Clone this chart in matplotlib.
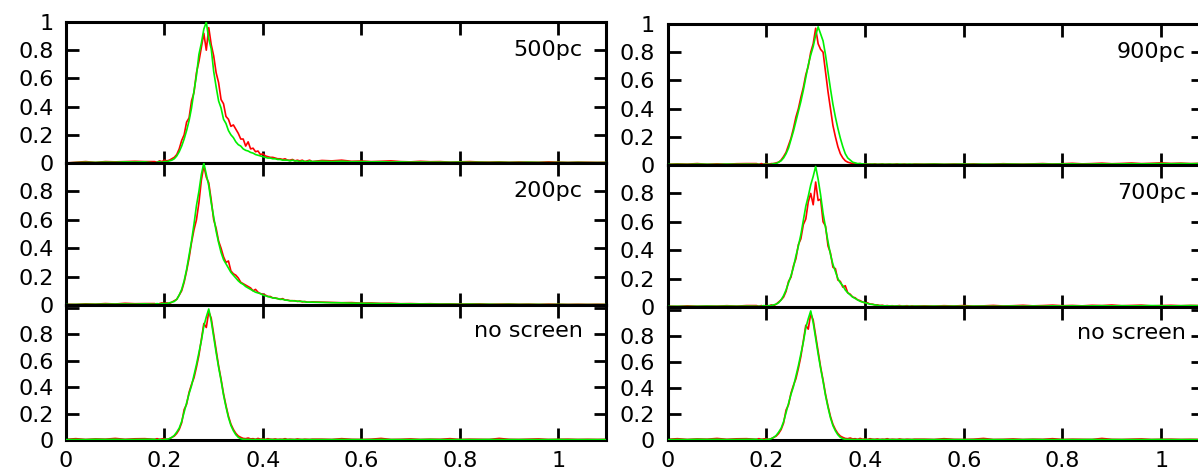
import numpy as np
import matplotlib
matplotlib.use("Agg")
import matplotlib.pyplot as plt
from matplotlib.ticker import FuncFormatter

plt.rcParams['font.family'] = ['DejaVu Sans']

# ---------------- data (normalised histograms) ----------------
# bin centres: a coarse low tail, a fine core around the peak, a coarse high tail
x_lo = [0.00, 0.02, 0.04, 0.06, 0.08, 0.10, 0.12, 0.14, 0.16]
x_core = np.round(np.arange(0.18, 0.5001, 0.005), 3)   # 0.180 ... 0.500
x_hi = np.round(np.arange(0.52, 1.1001, 0.02), 2)      # 0.52 ... 1.10

# ---- 500pc ----
r500_lo = [0.000, 0.005, 0.010, 0.004, 0.010, 0.008, 0.010, 0.012, 0.010]
r500_core = [0.010, 0.005, 0.015, 0.010, 0.020,
             0.015, 0.020, 0.030, 0.040, 0.060,
             0.100, 0.160, 0.200, 0.290, 0.320,
             0.440, 0.500, 0.640, 0.720, 0.820,
             0.920, 0.800, 0.960, 0.840, 0.760,
             0.640, 0.570, 0.450, 0.420, 0.330,
             0.310, 0.260, 0.270, 0.240, 0.210,
             0.170, 0.170, 0.120, 0.150, 0.100,
             0.105, 0.080, 0.085, 0.060, 0.065,
             0.050, 0.045, 0.040, 0.040, 0.035,
             0.030, 0.030, 0.025, 0.030, 0.020,
             0.020, 0.025, 0.015, 0.020, 0.015,
             0.020, 0.010, 0.015, 0.020, 0.010]
r500_hi = [0.018, 0.015, 0.020, 0.012, 0.014, 0.010, 0.012, 0.015, 0.010, 0.008,
           0.012, 0.009, 0.010, 0.006, 0.008, 0.010, 0.007, 0.006, 0.008, 0.005,
           0.007, 0.006, 0.005, 0.008, 0.006, 0.004, 0.006, 0.005, 0.004, 0.005]
g500_lo = [0.000, 0.003, 0.005, 0.004, 0.006, 0.005, 0.008, 0.007, 0.008]
g500_core = [0.000, 0.005, 0.010, 0.005, 0.010,
             0.010, 0.015, 0.020, 0.030, 0.050,
             0.080, 0.120, 0.170, 0.230, 0.300,
             0.390, 0.510, 0.620, 0.770, 0.850,
             0.950, 1.000, 0.880, 0.810, 0.650,
             0.540, 0.440, 0.390, 0.310, 0.280,
             0.230, 0.200, 0.180, 0.150, 0.130,
             0.120, 0.100, 0.090, 0.085, 0.075,
             0.070, 0.060, 0.055, 0.050, 0.045,
             0.040, 0.035, 0.035, 0.030, 0.030,
             0.025, 0.025, 0.020, 0.020, 0.020,
             0.015, 0.020, 0.015, 0.015, 0.010,
             0.015, 0.010, 0.010, 0.015, 0.010]
g500_hi = [0.012, 0.010, 0.012, 0.009, 0.010, 0.008, 0.009, 0.007, 0.008, 0.006,
           0.007, 0.006, 0.006, 0.005, 0.006, 0.005, 0.005, 0.004, 0.005, 0.004,
           0.004, 0.005, 0.004, 0.003, 0.004, 0.003, 0.004, 0.003, 0.003, 0.003]

# ---- 200pc ----
r200_lo = [0.005, 0.004, 0.008, 0.006, 0.010, 0.007, 0.012, 0.009, 0.010]
r200_core = [0.010, 0.005, 0.010, 0.015, 0.010,
             0.015, 0.010, 0.020, 0.030, 0.040,
             0.070, 0.100, 0.160, 0.240, 0.330,
             0.440, 0.530, 0.600, 0.720, 0.880,
             0.980, 0.900, 0.860, 0.740, 0.600,
             0.540, 0.450, 0.400, 0.340, 0.300,
             0.310, 0.240, 0.220, 0.210, 0.190,
             0.160, 0.150, 0.140, 0.130, 0.120,
             0.100, 0.110, 0.090, 0.080, 0.075,
             0.070, 0.060, 0.060, 0.050, 0.050,
             0.045, 0.040, 0.045, 0.035, 0.035,
             0.030, 0.030, 0.030, 0.025, 0.028,
             0.022, 0.025, 0.020, 0.020, 0.022]
r200_hi = [0.020, 0.018, 0.016, 0.017, 0.013, 0.014, 0.011, 0.012, 0.009, 0.010,
           0.008, 0.009, 0.007, 0.008, 0.006, 0.007, 0.008, 0.005, 0.006, 0.007,
           0.005, 0.006, 0.004, 0.006, 0.005, 0.004, 0.005, 0.004, 0.005, 0.004]
g200_lo = [0.003, 0.004, 0.005, 0.005, 0.006, 0.006, 0.007, 0.006, 0.008]
g200_core = [0.005, 0.010, 0.005, 0.010, 0.010,
             0.010, 0.015, 0.020, 0.025, 0.040,
             0.070, 0.110, 0.170, 0.250, 0.350,
             0.450, 0.570, 0.700, 0.800, 0.920,
             1.000, 0.920, 0.840, 0.720, 0.620,
             0.520, 0.440, 0.370, 0.320, 0.290,
             0.260, 0.230, 0.210, 0.190, 0.170,
             0.155, 0.145, 0.130, 0.120, 0.110,
             0.100, 0.090, 0.085, 0.080, 0.070,
             0.065, 0.060, 0.055, 0.050, 0.048,
             0.045, 0.040, 0.040, 0.035, 0.033,
             0.030, 0.030, 0.028, 0.027, 0.025,
             0.025, 0.022, 0.020, 0.020, 0.020]
g200_hi = [0.018, 0.016, 0.015, 0.013, 0.012, 0.011, 0.010, 0.009, 0.008, 0.008,
           0.007, 0.007, 0.006, 0.006, 0.005, 0.006, 0.005, 0.005, 0.004, 0.005,
           0.004, 0.004, 0.004, 0.003, 0.004, 0.003, 0.003, 0.003, 0.003, 0.003]

# ---- no screen (same in both columns) ----
r0_lo = [0.005, 0.010, 0.004, 0.008, 0.006, 0.012, 0.005, 0.009, 0.010]
r0_core = [0.005, 0.010, 0.005, 0.008, 0.010,
           0.005, 0.010, 0.020, 0.030, 0.050,
           0.080, 0.130, 0.230, 0.270, 0.360,
           0.420, 0.470, 0.550, 0.640, 0.760,
           0.880, 0.850, 0.970, 0.920, 0.800,
           0.680, 0.560, 0.460, 0.350, 0.260,
           0.180, 0.120, 0.080, 0.050, 0.030,
           0.020, 0.012, 0.010, 0.015, 0.008,
           0.010, 0.005, 0.012, 0.006, 0.008,
           0.004, 0.010, 0.006, 0.005, 0.008,
           0.004, 0.006, 0.005, 0.010, 0.004,
           0.006, 0.005, 0.004, 0.008, 0.005,
           0.004, 0.006, 0.005, 0.004, 0.006]
r0_hi = [0.006, 0.004, 0.010, 0.005, 0.004, 0.006, 0.012, 0.004, 0.005, 0.008,
         0.004, 0.006, 0.005, 0.010, 0.004, 0.006, 0.005, 0.004, 0.012, 0.005,
         0.004, 0.006, 0.008, 0.004, 0.005, 0.006, 0.004, 0.005, 0.004, 0.005]
g0_lo = [0.003, 0.004, 0.003, 0.005, 0.004, 0.005, 0.003, 0.004, 0.005]
g0_core = [0.005, 0.000, 0.005, 0.000, 0.005,
           0.005, 0.010, 0.020, 0.035, 0.060,
           0.090, 0.140, 0.210, 0.280, 0.350,
           0.410, 0.490, 0.570, 0.660, 0.750,
           0.860, 0.930, 0.990, 0.900, 0.780,
           0.660, 0.550, 0.450, 0.340, 0.250,
           0.170, 0.110, 0.070, 0.040, 0.020,
           0.010, 0.005, 0.005, 0.004, 0.004,
           0.003, 0.004, 0.003, 0.003, 0.004,
           0.003, 0.003, 0.004, 0.003, 0.003,
           0.003, 0.003, 0.003, 0.004, 0.003,
           0.003, 0.003, 0.003, 0.003, 0.003,
           0.003, 0.003, 0.003, 0.003, 0.003]
g0_hi = [0.003, 0.003, 0.004, 0.003, 0.003, 0.003, 0.004, 0.003, 0.003, 0.003,
         0.003, 0.004, 0.003, 0.003, 0.003, 0.003, 0.003, 0.004, 0.003, 0.003,
         0.003, 0.003, 0.003, 0.003, 0.004, 0.003, 0.003, 0.003, 0.003, 0.003]

# ---- 900pc ----
r900_lo = [0.005, 0.008, 0.006, 0.010, 0.005, 0.008, 0.006, 0.009, 0.010]
r900_core = [0.010, 0.005, 0.010, 0.005, 0.010,
             0.005, 0.010, 0.010, 0.015, 0.020,
             0.035, 0.060, 0.090, 0.140, 0.190,
             0.260, 0.340, 0.400, 0.480, 0.550,
             0.640, 0.700, 0.800, 0.860, 0.970,
             0.860, 0.820, 0.800, 0.660, 0.520,
             0.400, 0.280, 0.200, 0.130, 0.080,
             0.050, 0.030, 0.020, 0.015, 0.010,
             0.010, 0.008, 0.010, 0.006, 0.008,
             0.005, 0.007, 0.006, 0.008, 0.005,
             0.006, 0.008, 0.005, 0.006, 0.007,
             0.005, 0.006, 0.008, 0.005, 0.006,
             0.007, 0.005, 0.006, 0.005, 0.007]
r900_hi = [0.006, 0.008, 0.005, 0.007, 0.006, 0.008, 0.005, 0.006, 0.009, 0.007,
           0.006, 0.008, 0.010, 0.007, 0.009, 0.012, 0.008, 0.010, 0.013, 0.009,
           0.011, 0.014, 0.010, 0.012, 0.015, 0.011, 0.013, 0.010, 0.012, 0.011]
g900_lo = [0.004, 0.005, 0.004, 0.006, 0.005, 0.004, 0.006, 0.005, 0.006]
g900_core = [0.005, 0.005, 0.000, 0.005, 0.005,
             0.005, 0.005, 0.010, 0.010, 0.020,
             0.030, 0.050, 0.080, 0.120, 0.180,
             0.240, 0.310, 0.380, 0.450, 0.530,
             0.620, 0.710, 0.780, 0.840, 0.920,
             0.980, 0.930, 0.880, 0.780, 0.660,
             0.540, 0.430, 0.340, 0.260, 0.190,
             0.130, 0.080, 0.050, 0.035, 0.020,
             0.015, 0.010, 0.010, 0.008, 0.006,
             0.006, 0.005, 0.006, 0.005, 0.005,
             0.005, 0.006, 0.005, 0.005, 0.006,
             0.005, 0.005, 0.005, 0.006, 0.005,
             0.005, 0.005, 0.006, 0.005, 0.005]
g900_hi = [0.005, 0.006, 0.005, 0.005, 0.006, 0.005, 0.006, 0.005, 0.006, 0.006,
           0.005, 0.006, 0.007, 0.006, 0.007, 0.008, 0.006, 0.007, 0.008, 0.007,
           0.008, 0.009, 0.008, 0.009, 0.010, 0.009, 0.010, 0.009, 0.010, 0.009]

# ---- 700pc ----
r700_lo = [0.006, 0.004, 0.008, 0.005, 0.007, 0.006, 0.009, 0.006, 0.010]
r700_core = [0.010, 0.005, 0.010, 0.005, 0.010,
             0.005, 0.015, 0.010, 0.020, 0.035,
             0.050, 0.070, 0.110, 0.180, 0.210,
             0.290, 0.340, 0.440, 0.480, 0.580,
             0.620, 0.740, 0.800, 0.720, 0.880,
             0.750, 0.760, 0.600, 0.570, 0.430,
             0.380, 0.280, 0.270, 0.190, 0.180,
             0.140, 0.150, 0.100, 0.090, 0.070,
             0.065, 0.050, 0.045, 0.035, 0.030,
             0.030, 0.020, 0.020, 0.015, 0.015,
             0.010, 0.012, 0.008, 0.010, 0.007,
             0.009, 0.006, 0.008, 0.010, 0.006,
             0.007, 0.009, 0.005, 0.008, 0.006]
r700_hi = [0.008, 0.006, 0.009, 0.007, 0.010, 0.006, 0.008, 0.011, 0.007, 0.009,
           0.012, 0.008, 0.010, 0.013, 0.009, 0.011, 0.008, 0.012, 0.010, 0.014,
           0.009, 0.011, 0.013, 0.008, 0.010, 0.012, 0.009, 0.011, 0.010, 0.012]
g700_lo = [0.004, 0.005, 0.004, 0.005, 0.006, 0.005, 0.006, 0.005, 0.006]
g700_core = [0.005, 0.005, 0.005, 0.010, 0.005,
             0.010, 0.010, 0.015, 0.020, 0.030,
             0.050, 0.080, 0.120, 0.170, 0.220,
             0.280, 0.360, 0.430, 0.510, 0.610,
             0.710, 0.780, 0.860, 0.920, 0.990,
             0.900, 0.790, 0.660, 0.560, 0.460,
             0.370, 0.300, 0.250, 0.200, 0.170,
             0.150, 0.120, 0.100, 0.085, 0.070,
             0.060, 0.050, 0.040, 0.035, 0.030,
             0.025, 0.020, 0.018, 0.015, 0.012,
             0.010, 0.009, 0.008, 0.008, 0.007,
             0.007, 0.006, 0.007, 0.006, 0.006,
             0.006, 0.005, 0.006, 0.005, 0.006]
g700_hi = [0.005, 0.006, 0.005, 0.006, 0.005, 0.006, 0.006, 0.005, 0.006, 0.007,
           0.006, 0.007, 0.006, 0.008, 0.007, 0.008, 0.007, 0.008, 0.009, 0.008,
           0.009, 0.008, 0.009, 0.010, 0.009, 0.008, 0.009, 0.010, 0.009, 0.009]

panel_labels = ["500pc", "200pc", "no screen", "900pc", "700pc", "no screen"]
x_ticks = [0, 0.2, 0.4, 0.6, 0.8, 1.0]
y_ticks = [0, 0.2, 0.4, 0.6, 0.8, 1.0]

RED = '#ff0000'
GREEN = '#00f000'

W, H = 1198.0, 472.0
fig = plt.figure(figsize=(W / 100, H / 100), dpi=100)


def add_axes(x0_px, width_px, top_px, bottom_px):
    return fig.add_axes([x0_px / W, 1 - bottom_px / H, width_px / W, (bottom_px - top_px) / H])


fmt = FuncFormatter(lambda v, p: '%g' % round(v, 3))


def style(ax, xlim_right, ylim_top, show_x, show_one):
    ax.set_xlim(0, xlim_right)
    ax.set_ylim(0, ylim_top)
    ax.set_xticks(x_ticks)
    ax.set_yticks(y_ticks)
    ax.xaxis.set_major_formatter(fmt)
    ylabels = ['%g' % t for t in y_ticks]
    if not show_one:
        ylabels[-1] = ''
    ax.set_yticklabels(ylabels)
    ax.tick_params(direction='in', length=9, width=2.0, top=True, right=True,
                   labelsize=16, pad=9, colors='black')
    ax.tick_params(axis='x', labelbottom=show_x, pad=8)
    for s in ax.spines.values():
        s.set_linewidth(2.2)


def series(lo, core, hi):
    x = np.concatenate([x_lo, x_core, x_hi])
    y = np.concatenate([lo, core, hi])
    return x, y


# column geometry in pixels: left edge, width, x-limit
columns = [(66.0, 540.0, 1.097), (667.6, 535.5, 1.085)]
left_rows = [(22, 163, 1.0), (163, 305, 1.0), (305, 440, 1.02)]
right_rows = [(24, 165, 1.0), (165, 307, 1.0), (307, 440, 1.02)]

left_data = [((r500_lo, r500_core, r500_hi), (g500_lo, g500_core, g500_hi)),
             ((r200_lo, r200_core, r200_hi), (g200_lo, g200_core, g200_hi)),
             ((r0_lo, r0_core, r0_hi), (g0_lo, g0_core, g0_hi))]
right_data = [((r900_lo, r900_core, r900_hi), (g900_lo, g900_core, g900_hi)),
              ((r700_lo, r700_core, r700_hi), (g700_lo, g700_core, g700_hi)),
              ((r0_lo, r0_core, r0_hi), (g0_lo, g0_core, g0_hi))]

k = 0
for (x0, w, xr_lim), rows, data in [(columns[0], left_rows, left_data),
                                    (columns[1], right_rows, right_data)]:
    for i, ((top, bot, ytop), (red, green)) in enumerate(zip(rows, data)):
        ax = add_axes(x0, w, top, bot)
        xr, yr = series(*red)
        xg, yg = series(*green)
        ax.plot(xr, yr, color=RED, lw=1.2, zorder=2)
        ax.plot(xg, yg, color=GREEN, lw=1.2, zorder=3)
        style(ax, xr_lim, ytop, show_x=(i == 2), show_one=(i == 0))
        yl = 0.8 if i < 2 else 0.82
        ax.text(1.05, yl, panel_labels[k], ha='right', va='center', fontsize=16)
        k += 1

fig.savefig('out.png', dpi=100)
